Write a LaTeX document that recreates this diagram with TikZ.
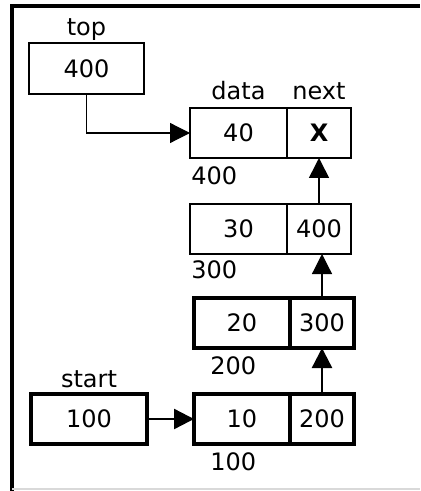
\documentclass[tikz,border=0pt]{standalone}
\usepackage{fontspec}
\setmainfont{DejaVu Sans}
\usetikzlibrary{arrows.meta,positioning}

\begin{document}
\begin{tikzpicture}[x=0.5pt,y=-0.5pt,shape=rectangle,>={Triangle[length=10pt,width=10pt]},
  font=\fontsize{12}{14}\selectfont,
  cell/.style={draw, line width=0.6pt, outer sep=0pt, inner sep=0pt, minimum height=25pt},
  heavycell/.style={cell, line width=1.6pt},
  tag/.style={inner sep=0pt}]
\useasboundingbox (0,0) rectangle (420,491);
\draw[line width=2pt] (12,491) -- (12,6) -- (420,6);
\draw[black!15, line width=1pt] (12,489) -- (420,489);

\node (top) [cell, minimum width=57.5pt, minimum height=25.5pt] at (86.5,68.5) {400};
\node (topLabel) [tag, above=1pt of top] {top};

\node (data40) [cell, minimum width=48.5pt] at (238.5,133) {40};
\node (next40) [cell, minimum width=32pt, right=0pt of data40] {\textbf{X}};
\node (dataLabel) [tag, above=4pt of data40] {data};
\node (nextLabel) [tag, above=4pt of next40] {next};
\node (addr400) [tag, below right=4pt and 0.5pt of data40.south west] {400};

\node (data30) [cell, minimum width=48.5pt, below=23pt of data40] {30};
\node (next30) [cell, minimum width=32pt, right=0pt of data30] {400};
\node (addr300) [tag, below right=3pt and 0.5pt of data30.south west] {300};

\node (data20) [heavycell, minimum width=48pt, below=22pt of data30, xshift=1.75pt] {20};
\node (next20) [heavycell, minimum width=32pt, right=0pt of data20] {300};
\node (addr200) [tag, below right=4pt and 8pt of data20.south west] {200};

\node (data10) [heavycell, minimum width=48pt, below=23pt of data20] {10};
\node (next10) [heavycell, minimum width=32pt, right=0pt of data10] {200};
\node (addr100) [tag, below right=4pt and 8pt of data10.south west] {100};

\node (start) [heavycell, minimum width=58pt, left=23.5pt of data10] {100};
\node (startLabel) [tag, above=3pt of start] {start};

\draw[->, line width=0.6pt] (top.south) |- (data40.west);
\draw[->, line width=0.8pt] (next30.north) -- (next40.south);
\draw[->, line width=0.6pt] (next20.north) -- (next20.north |- data30.south);
\draw[->, line width=1.2pt] (next10.north) -- (next20.south);
\draw[->, line width=1.2pt] (start) -- (data10);
\end{tikzpicture}
\end{document}
